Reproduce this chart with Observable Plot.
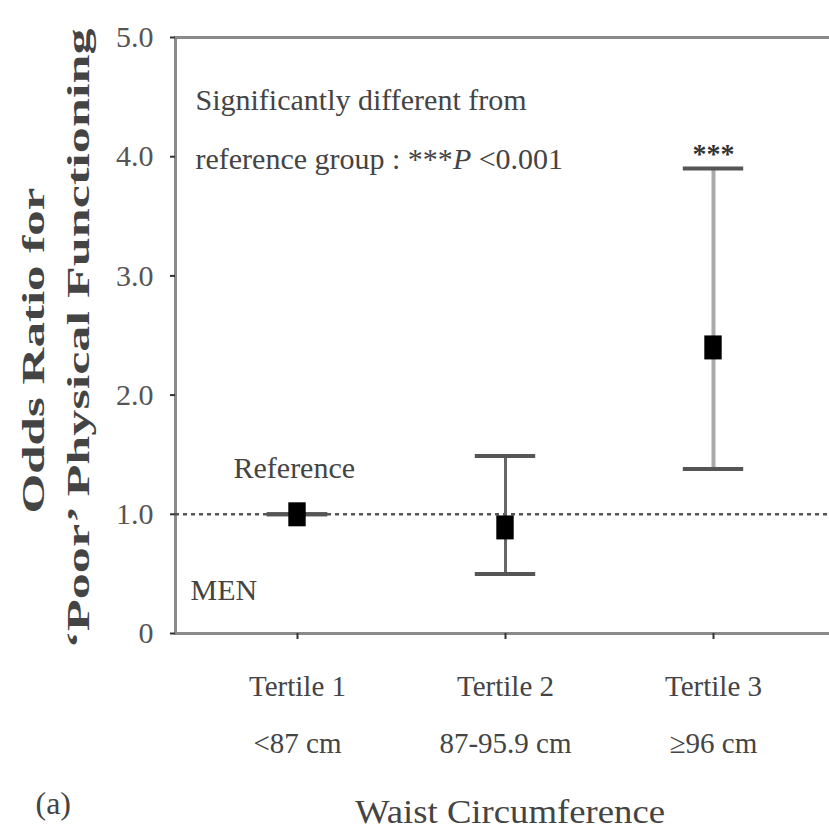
<!DOCTYPE html>
<html><head><meta charset="utf-8">
<script src="https://cdn.jsdelivr.net/npm/d3@7"></script>
<script src="https://cdn.jsdelivr.net/npm/@observablehq/plot@0.6"></script>
<style>body{margin:0;background:#fff}</style>
</head><body><div id="chart"></div>
<script>
const tertiles = ["Tertile 1", "Tertile 2", "Tertile 3"];
const ranges = ["<87 cm", "87-95.9 cm", "≥96 cm"];
const oddsRatio = [1.0, 0.89, 2.40];
const ciLower = [1.0, 0.50, 1.38];
const ciUpper = [1.0, 1.49, 3.90];
const significance = ["", "", "***"];
const yTicks = [0, 1, 2, 3, 4, 5];
const referenceValue = [1];
const yTitle = ["Odds Ratio for", "\u2018Poor\u2019 Physical Functioning"];
const xTitle = "Waist Circumference";
const noteLines = ["Significantly different from", "reference group : ***P <0.001"];

const data = tertiles.map((t, i) => ({tertile: t, range: ranges[i], or: oddsRatio[i], lo: ciLower[i], hi: ciUpper[i], sig: significance[i]}));
const serif = "'Liberation Serif','Times New Roman',serif";

const plot = Plot.plot({
  width: 829, height: 836,
  marginLeft: 175, marginRight: -5, marginTop: 37, marginBottom: 203,
  style: {fontFamily: serif, background: "#fff", color: "#333"},
  x: {type: "band", domain: tertiles, paddingInner: 0.8, paddingOuter: 0.479},
  y: {domain: [0, 5]},
  marks: [
    Plot.frame({stroke: "#8a8a8a", strokeWidth: 3}),
    Plot.ruleY(referenceValue, {stroke: "#555", strokeWidth: 2.5, strokeDasharray: "4,4"}),
    Plot.axisY(yTicks, {tickSize: 5, tickPadding: 17, fontSize: 30, tickFormat: d => d === 0 ? "0" : d.toFixed(1), label: null, fill: "#555", stroke: "#333", strokeWidth: 2}),
    Plot.axisX({tickSize: 6, tickPadding: 16, fontSize: 29, lineHeight: 1.97, tickFormat: d => d + "\n" + ranges[tertiles.indexOf(d)], label: null, fill: "#444", stroke: "#333", strokeWidth: 2}),
    Plot.ruleX(data, {filter: d => d.tertile === "Tertile 2", x: "tertile", y1: "lo", y2: "hi", stroke: "#666", strokeWidth: 3}),
    Plot.ruleX(data, {filter: d => d.tertile === "Tertile 3", x: "tertile", y1: "lo", y2: "hi", stroke: "#aaa", strokeWidth: 4}),
    Plot.tickY(data, {x: "tertile", y: "hi", stroke: "#555", strokeWidth: 4, insetLeft: -9.2, insetRight: -9.2}),
    Plot.tickY(data, {x: "tertile", y: "lo", stroke: "#555", strokeWidth: 4, insetLeft: -9.2, insetRight: -9.2}),
    Plot.tickY(data, {x: "tertile", y: "or", stroke: "#000", strokeWidth: 24, insetLeft: 12.3, insetRight: 12.3}),
    Plot.text(data, {x: "tertile", y: "hi", text: "sig", dy: -15, fontSize: 28, fontWeight: "bold", fill: "#333"}),
    Plot.text(["Reference"], {x: () => tertiles[0], y: () => oddsRatio[0], dx: -64, dy: -46, textAnchor: "start", fontSize: 30, fill: "#444"}),
    Plot.text(["MEN"], {frameAnchor: "bottom-left", dx: 15, dy: -34, textAnchor: "start", fontSize: 30, fill: "#444"}),
    Plot.text([noteLines.join("\n")], {frameAnchor: "top-left", dx: 20, dy: 31, textAnchor: "start", lineHeight: 1.95, fontSize: 30, fill: "#444"}),
    Plot.text([yTitle[0]], {frameAnchor: "left", dx: -142, dy: 178, rotate: -90, textAnchor: "start", fontSize: 32, fontWeight: "bold", fill: "#444"}),
    Plot.text([yTitle[1]], {frameAnchor: "left", dx: -97, dy: 313, rotate: -90, textAnchor: "start", fontSize: 32, fontWeight: "bold", fill: "#444"}),
    Plot.text([xTitle], {frameAnchor: "bottom", dx: 5, dy: 189, fontSize: 34, fill: "#444"}),
    Plot.text(["(a)"], {frameAnchor: "bottom-left", dx: -140, dy: 180, fontSize: 32, fill: "#444"})
  ]
});
document.getElementById("chart").appendChild(plot);

// typographic tweaks: stretch texts to the reference lengths, italic P
const lengths = {"Odds Ratio for": 326, "\u2018Poor\u2019 Physical Functioning": 620, "Significantly different from": 345, "Waist Circumference": 310};
plot.querySelectorAll("text").forEach(t => {
  const s = t.textContent;
  if (lengths[s]) { t.setAttribute("textLength", lengths[s]); t.setAttribute("lengthAdjust", "spacingAndGlyphs"); }
  t.querySelectorAll("tspan").forEach(ts => {
    if (ts.textContent === noteLines[1]) {
      ts.textContent = "";
      const parts = ["reference group : ***", "P", " <0.001"];
      parts.forEach((p, k) => {
        const sp = document.createElementNS("http://www.w3.org/2000/svg", "tspan");
        sp.textContent = p;
        if (k === 1) sp.setAttribute("font-style", "italic");
        ts.appendChild(sp);
      });
    }
  });
});
</script>
</body></html>
